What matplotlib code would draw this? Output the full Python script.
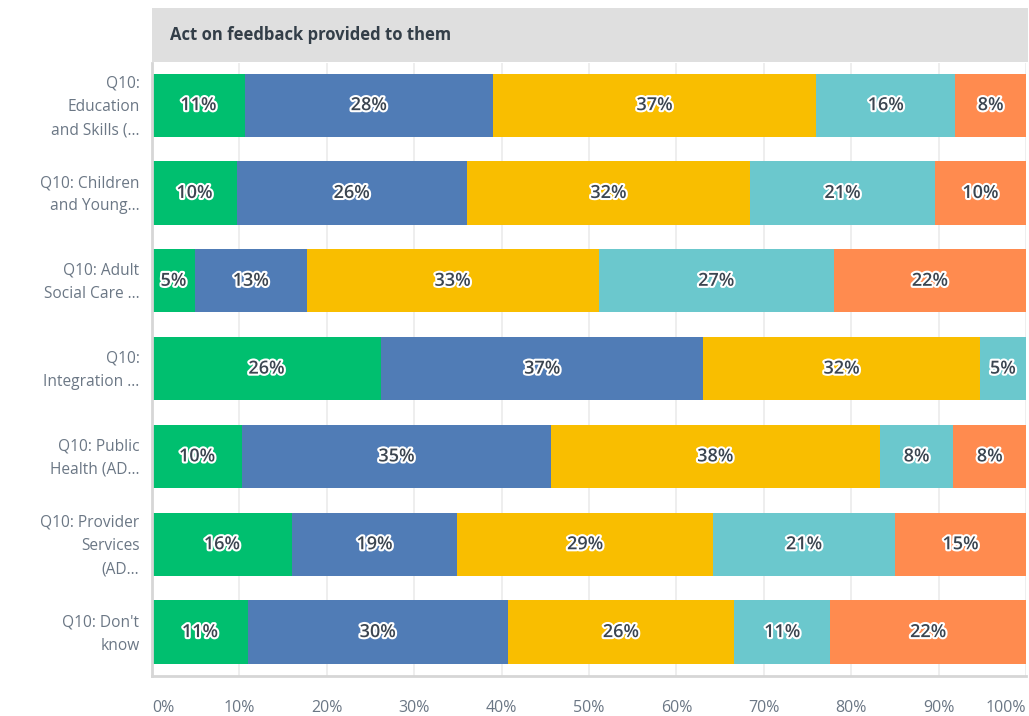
import matplotlib
matplotlib.use("Agg")
import matplotlib.pyplot as plt
import matplotlib.patheffects as pe
import numpy as np

plt.rcParams['font.family'] = ['Open Sans', 'DejaVu Sans']

title = "Act on feedback provided to them"

categories = [
    "Q10:\nEducation\nand Skills (...",
    "Q10: Children\nand Young...",
    "Q10: Adult\nSocial Care ...",
    "Q10:\nIntegration ...",
    "Q10: Public\nHealth (AD...",
    "Q10: Provider\nServices\n(AD...",
    "Q10: Don't\nknow",
]

# share of responses (%) per answer option, one entry per category
seg1 = [10.6, 9.7, 4.9, 26.2, 10.3, 16.0, 10.95]
seg2 = [28.4, 26.3, 12.8, 36.9, 35.35, 18.9, 29.75]
seg3 = [37.0, 32.45, 33.4, 31.6, 37.6, 29.3, 25.9]
seg4 = [15.9, 21.1, 26.9, 5.3, 8.45, 20.8, 11.0]
seg5 = [8.1, 10.45, 22.0, 0.0, 8.3, 15.0, 22.4]

series = [seg1, seg2, seg3, seg4, seg5]
colors = ["#00bf6f", "#507cb6", "#f9be00", "#6bc8cd", "#ff8b4f"]

xticks = [0, 10, 20, 30, 40, 50, 60, 70, 80, 90, 100]
xtick_labels = ["0%", "10%", "20%", "30%", "40%", "50%", "60%", "70%", "80%", "90%", "100%"]

W, H = 1029, 716
fig = plt.figure(figsize=(W / 100, H / 100), dpi=100)

x0, x1 = 152, 1026
ax = fig.add_axes([x0 / W, (H - 676) / H, (x1 - x0) / W, (676 - 63) / H])

y = np.arange(len(categories))
left = np.zeros(len(categories))
for vals, col in zip(series, colors):
    vals = np.asarray(vals, dtype=float)
    ax.barh(y, vals, left=left, height=0.72, color=col, edgecolor="none", zorder=2)
    for yi, (l, v) in enumerate(zip(left, vals)):
        if v <= 0:
            continue
        ax.text(l + v / 2, yi, f"{v:.0f}%", ha="center", va="center",
                fontsize=13, fontweight="semibold", color="#3b4550", zorder=3,
                path_effects=[pe.withStroke(linewidth=3, foreground="white")])
    left += vals

ax.set_xlim(0, 100)
ax.set_ylim(6.5, -0.48)
# category labels sit a touch above the bar centre to balance the text descent
ax.set_yticks(y - 0.045)
ax.set_yticklabels(categories, fontsize=11.2, color="#6b7785", linespacing=1.62)
ax.set_xticks(xticks)
ax.set_xticklabels(xtick_labels, fontsize=11.5, color="#6b7785")
tl = ax.get_xticklabels()
tl[0].set_ha("left")
tl[-1].set_ha("right")
ax.tick_params(axis="both", length=0)
ax.tick_params(axis="x", pad=17.5)
ax.tick_params(axis="y", pad=9)

ax.grid(axis="x", color="#ebebeb", linewidth=1.2, zorder=0)
ax.set_axisbelow(True)
for s in ["top", "right"]:
    ax.spines[s].set_visible(False)
ax.spines["left"].set_color("#d6d6d6")
ax.spines["left"].set_linewidth(2)
ax.spines["bottom"].set_color("#d6d6d6")
ax.spines["bottom"].set_linewidth(2)

# title band above the bars
hax = fig.add_axes([x0 / W, (H - 62) / H, (1028 - x0) / W, 54 / H])
hax.set_facecolor("#dfdfdf")
hax.set_xticks([])
hax.set_yticks([])
for s in hax.spines.values():
    s.set_visible(False)
hax.text(18 / (1028 - x0), 0.5, title, transform=hax.transAxes, ha="left", va="center",
         fontsize=12, fontweight="bold", color="#333e48")

fig.savefig("out.png", dpi=100, facecolor="white")
